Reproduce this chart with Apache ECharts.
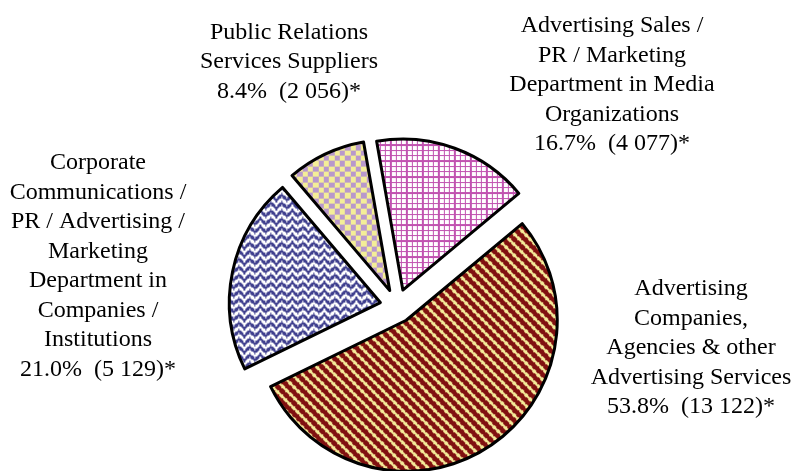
<!DOCTYPE html>
<html>
<head>
<meta charset="utf-8">
<script src="https://cdn.jsdelivr.net/npm/echarts@6/dist/echarts.min.js"></script>
<style>
  html, body { margin: 0; padding: 0; background: #fff; }
  #chart { width: 791px; height: 471px; }
</style>
</head>
<body>
<div id="chart"></div>
<script>
// slice order, clockwise from just left of 12 o'clock
const categories = [
  'Advertising Sales /\nPR / Marketing\nDepartment in Media\nOrganizations',
  'Advertising\nCompanies,\nAgencies & other\nAdvertising Services',
  'Corporate\nCommunications /\nPR / Advertising /\nMarketing\nDepartment in\nCompanies /\nInstitutions',
  'Public Relations\nServices Suppliers'
];
const counts = [4077, 13122, 5129, 2056];

// label anchor (centre of each text block)
const labelPos = [[612, 85], [691, 348], [98, 266], [289, 62]];

// 8-px style fill patterns, scaled 4/3 like the original
const gridBits = ['11111111', '10001000', '10001000', '10001000', '11111111', '10001000', '10001000', '10001000'];
const diagBits = [];
for (let r = 0; r < 8; r++) {
  let row = '';
  for (let c = 0; c < 8; c++) row += ((c - r + 8) % 8) < 5 ? '1' : '0';
  diagBits.push(row);
}
// zigzag band: solid core, dithered edges
const zigBits = [];
for (let r = 0; r < 6; r++) {
  let row = '';
  for (let c = 0; c < 8; c++) {
    const d = Math.abs(c * 2 - 7) >> 1;
    const k = (r + d) % 6;
    const on = (k === 1 || k === 2) || ((k === 0 || k === 3) && (r + c) % 2 === 0);
    row += on ? '1' : '0';
  }
  zigBits.push(row);
}
const checkBits = ['11110000', '11110000', '11110000', '11110000', '00001111', '00001111', '00001111', '00001111'];

function hex(c) {
  return [parseInt(c.slice(1, 3), 16), parseInt(c.slice(3, 5), 16), parseInt(c.slice(5, 7), 16)];
}

function makePattern(bits, fg, bg) {
  const ph = bits.length, pw = bits[0].length;
  const W = pw * 4, H = ph * 4;
  const cv = document.createElement('canvas');
  cv.width = W; cv.height = H;
  const ctx = cv.getContext('2d');
  const img = ctx.createImageData(W, H);
  const f = hex(fg), b = hex(bg);
  for (let y = 0; y < H; y++) {
    for (let x = 0; x < W; x++) {
      const on = bits[Math.floor(y * 3 / 4) % ph][Math.floor(x * 3 / 4) % pw] === '1';
      const col = on ? f : b;
      const i = (y * W + x) * 4;
      img.data[i] = col[0]; img.data[i + 1] = col[1]; img.data[i + 2] = col[2]; img.data[i + 3] = 255;
    }
  }
  ctx.putImageData(img, 0, 0);
  return { image: cv, repeat: 'repeat' };
}

const fills = [
  makePattern(gridBits, '#C152B0', '#FFFFFF'),
  makePattern(diagBits, '#801010', '#F4EA98'),
  makePattern(zigBits, '#40408F', '#FFFFFF'),
  makePattern(checkBits, '#B898CC', '#F4EE98')
];

const fmtCount = v => String(v).replace(/\B(?=(\d{3})+(?!\d))/g, ' ');
const total = counts.reduce((a, b) => a + b, 0);

const labels = categories.map((name, i) => ({
  type: 'text',
  x: labelPos[i][0],
  y: labelPos[i][1],
  silent: true,
  style: {
    text: name + '\n' + (counts[i] / total * 100).toFixed(1) + '%  (' + fmtCount(counts[i]) + ')*',
    fontFamily: 'Liberation Serif',
    fontSize: 24,
    lineHeight: 29.5,
    fill: '#000',
    align: 'center',
    verticalAlign: 'middle'
  }
}));

const chart = echarts.init(document.getElementById('chart'), null, { renderer: 'canvas' });

chart.setOption({
  animation: false,
  backgroundColor: '#fff',
  graphic: labels,
  series: [
    {
      type: 'pie',
      center: [397, 306],
      radius: 151,
      startAngle: 100,
      clockwise: true,
      selectedMode: 'multiple',
      selectedOffset: 17,
      emphasis: { disabled: true },
      itemStyle: { borderColor: '#000', borderWidth: 3 },
      label: { show: false },
      labelLine: { show: false },
      data: categories.map((name, i) => ({
        name,
        value: counts[i],
        selected: true,
        itemStyle: { color: fills[i] }
      }))
    }
  ]
});
</script>
</body>
</html>
